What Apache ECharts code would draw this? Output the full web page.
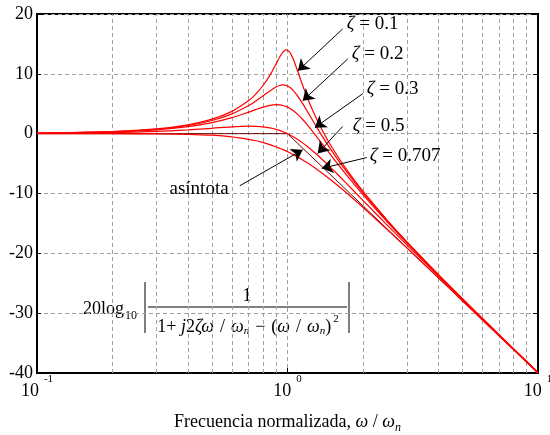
<!DOCTYPE html>
<html>
<head>
<meta charset="utf-8">
<script src="https://cdn.jsdelivr.net/npm/echarts@6/dist/echarts.min.js"></script>
<style>
  html, body { margin: 0; padding: 0; background: #fff; }
  #chart { width: 550px; height: 435px; }
</style>
</head>
<body>
<div id="chart"></div>
<script>
// normalized frequency w/wn and magnitude in dB
const freq = [0.1, 0.2, 0.3, 0.4, 0.5, 0.6, 0.7, 0.75, 0.8, 0.85, 0.9, 0.93, 0.96, 0.99, 1.02,
  1.05, 1.1, 1.15, 1.2, 1.3, 1.4, 1.5, 1.7, 2, 2.5, 3, 4, 5, 7, 10];
const zeta01 = [0.09, 0.35, 0.80, 1.48, 2.42, 3.73, 5.53, 6.70, 8.09, 9.75, 11.64, 12.77, 13.66, 14.02, 13.64,
  12.63, 10.34, 8.04, 6.00, 2.65, 0.00, -2.18, -5.67, -9.62, -14.44, -18.09, -23.53, -27.61, -33.63, -39.91];
const zeta02 = [0.08, 0.33, 0.74, 1.36, 2.20, 3.31, 4.70, 5.51, 6.35, 7.15, 7.81, 8.05, 8.14, 8.04, 7.74,
  7.28, 6.24, 5.01, 3.73, 1.27, -0.92, -2.84, -6.06, -9.84, -14.56, -18.16, -23.57, -27.63, -33.64, -39.92];
const zeta03 = [0.07, 0.29, 0.65, 1.17, 1.85, 2.68, 3.60, 4.05, 4.44, 4.72, 4.85, 4.82, 4.71, 4.52, 4.25,
  3.90, 3.19, 2.37, 1.48, -0.35, -2.11, -3.75, -6.64, -10.19, -14.74, -18.28, -23.63, -27.67, -33.66, -39.93];
const zeta05 = [0.04, 0.17, 0.37, 0.63, 0.90, 1.14, 1.25, 1.23, 1.14, 0.97, 0.73, 0.54, 0.33, 0.09, -0.18,
  -0.47, -0.98, -1.54, -2.13, -3.36, -4.60, -5.81, -8.10, -11.14, -15.29, -18.63, -23.82, -27.79, -33.72, -39.96];
const zeta0707 = [0.00, -0.01, -0.04, -0.11, -0.26, -0.53, -0.94, -1.19, -1.49, -1.82, -2.19, -2.43, -2.67, -2.92, -3.19,
  -3.46, -3.92, -4.39, -4.88, -5.86, -6.85, -7.83, -9.71, -12.30, -16.03, -19.14, -24.10, -27.97, -33.81, -40.00];
const asymFreq = [0.1, 1, 10];
const asymDb = [0, 0, -40];

const minorX = [0.2, 0.3, 0.4, 0.5, 0.6, 0.7, 0.8, 0.9, 2, 3, 4, 5, 6, 7, 8, 9];
const xExponents = ['-1', '0', '1'];

// annotations (data coordinates)
const zetaLabels = ['0.1', '0.2', '0.3', '0.5', '0.707'];
const zetaLabelAt = [[1.725, 18.3], [1.806, 13.3], [2.073, 7.5], [1.823, 1.3], [2.132, -3.7]];
const asintotaAt = [0.338, -9.2];
const arrowFrom = [[1.66, 17.5], [1.74, 12.5], [2.0, 6.7], [1.66, 1.2], [2.07, -4.0], [0.645, -8.7]];
const arrowTo = [[1.10, 10.5], [1.15, 5.5], [1.285, 1.0], [1.32, -3.3], [1.37, -5.8], [1.15, -2.7]];

const serif = 'Liberation Serif';
const gridGray = '#a0a0a0';

const chart = echarts.init(document.getElementById('chart'));

function pairs(xs, ys) {
  return xs.map((x, i) => [x, ys[i]]);
}

const curves = [zeta01, zeta02, zeta03, zeta05, zeta0707].map((vals, i) => ({
  name: 'zeta ' + zetaLabels[i],
  type: 'line',
  data: pairs(freq, vals),
  smooth: 0.3,
  symbol: 'none',
  z: 3,
  lineStyle: { color: '#ff0000', width: 1.2 }
}));

// arrows and texts ride on the last curve
curves[4].markLine = {
  silent: true,
  z: 5,
  symbol: ['none', 'arrow'],
  symbolSize: 11,
  label: { show: false },
  lineStyle: { color: '#000', width: 1, type: 'solid' },
  data: arrowFrom.map((p, i) => [{ coord: p }, { coord: arrowTo[i] }])
};
curves[4].markPoint = {
  silent: true,
  symbol: 'circle',
  symbolSize: 0,
  label: {
    show: true,
    position: 'right',
    distance: 0,
    color: '#000',
    rich: {
      z: { fontFamily: serif, fontSize: 19, fontStyle: 'italic', color: '#000' },
      r: { fontFamily: serif, fontSize: 19, color: '#000' }
    }
  },
  data: zetaLabels.map((t, i) => ({
    coord: zetaLabelAt[i],
    label: { formatter: '{z|\u03b6}{r| = ' + t + '}' }
  })).concat([{ coord: asintotaAt, label: { formatter: '{r|as\u00edntota}' } }])
};

const option = {
  animation: false,
  grid: {
    left: 37, right: 12, top: 14, bottom: 62,
    outerBoundsMode: 'none',
    containLabel: false,
    show: true, borderColor: '#000', borderWidth: 2
  },
  xAxis: {
    type: 'log',
    logBase: 10,
    min: 0.1,
    max: 10,
    name: '{r|Frecuencia normalizada, }{i|\u03c9}{r| / }{i|\u03c9}{n|n}',
    nameLocation: 'middle',
    nameGap: 40,
    nameTextStyle: {
      rich: {
        r: { fontFamily: serif, fontSize: 18, lineHeight: 18, verticalAlign: 'top', color: '#000' },
        i: { fontFamily: serif, fontSize: 18, lineHeight: 18, verticalAlign: 'top', fontStyle: 'italic', color: '#000' },
        n: { fontFamily: serif, fontSize: 12, lineHeight: 12, verticalAlign: 'top', fontStyle: 'italic', padding: [9, 0, 0, 0], color: '#000' }
      }
    },
    axisLine: { onZero: false, lineStyle: { color: '#000', width: 2 } },
    axisTick: { inside: true, length: 5, lineStyle: { color: '#000' } },
    axisLabel: {
      margin: 1,
      showMinLabel: true,
      showMaxLabel: true,
      formatter: (v, i) => '{b|10}{s|' + xExponents[i] + '}',
      rich: {
        b: { fontFamily: serif, fontSize: 18, lineHeight: 18, verticalAlign: 'top', padding: [8, 0, 0, 0], color: '#000' },
        s: { fontFamily: serif, fontSize: 11, lineHeight: 11, verticalAlign: 'top', padding: [0, 0, 0, 5], color: '#000' }
      }
    },
    splitLine: { show: true, lineStyle: { color: gridGray, type: [4, 3], width: 1 } }
  },
  yAxis: [
    {
      type: 'value',
      min: -40,
      max: 20,
      interval: 10,
      axisLine: { show: true, onZero: false, lineStyle: { color: '#000', width: 2 } },
      axisTick: { show: true, inside: true, length: 4, lineStyle: { color: '#000' } },
      axisLabel: { margin: 4, fontFamily: serif, fontSize: 18, color: '#000' },
      splitLine: { show: true, lineStyle: { color: gridGray, type: [4, 3], width: 1 } }
    },
    {
      type: 'value',
      position: 'right',
      min: -40,
      max: 20,
      interval: 10,
      axisLine: { show: true, onZero: false, lineStyle: { color: '#000', width: 2 } },
      axisTick: { show: true, inside: true, length: 5, lineStyle: { color: '#000' } },
      axisLabel: { show: false },
      splitLine: { show: false }
    }
  ],
  series: [
    {
      name: 'asintota',
      type: 'line',
      data: pairs(asymFreq, asymDb),
      symbol: 'none',
      z: 2,
      lineStyle: { color: '#6a0000', width: 1 },
      markLine: {
        silent: true,
        z: 1,
        symbol: ['none', 'none'],
        label: { show: false },
        lineStyle: { color: gridGray, type: [4, 3], width: 1 },
        data: minorX.map(v => ({ xAxis: v }))
      }
    }
  ].concat(curves),
  graphic: [
    {
      type: 'text',
      style: {
        text: '{a|20log}{s|10}',
        x: 83, y: 309,
        align: 'left', verticalAlign: 'middle',
        rich: {
          a: { fontFamily: serif, fontSize: 18, lineHeight: 18, verticalAlign: 'top', fill: '#000' },
          s: { fontFamily: serif, fontSize: 12, lineHeight: 12, verticalAlign: 'top', padding: [10, 0, 0, 1], fill: '#000' }
        }
      }
    },
    { type: 'line', shape: { x1: 145, y1: 282, x2: 145, y2: 333 }, style: { stroke: '#000', lineWidth: 1 } },
    { type: 'line', shape: { x1: 349, y1: 282, x2: 349, y2: 333 }, style: { stroke: '#000', lineWidth: 1 } },
    { type: 'line', shape: { x1: 148, y1: 307, x2: 347, y2: 307 }, style: { stroke: '#000', lineWidth: 1 } },
    {
      type: 'text',
      style: {
        text: '1', x: 247, y: 296, align: 'center', verticalAlign: 'middle',
        fontFamily: serif, fontSize: 18, fill: '#000'
      }
    },
    {
      type: 'text',
      style: {
        text: '{r|1+ }{i|j}{r|2}{i|\u03b6\u03c9}{o|/}{i|\u03c9}{n|n}{o|\u2212}{r|(}{i|\u03c9}{o|/}{i|\u03c9}{n|n}{r|)}{p|2}',
        x: 248, y: 321, align: 'center', verticalAlign: 'middle',
        rich: {
          r: { fontFamily: serif, fontSize: 18, lineHeight: 18, verticalAlign: 'top', padding: [6, 0, 0, 0], fill: '#000' },
          o: { fontFamily: serif, fontSize: 18, lineHeight: 18, verticalAlign: 'top', padding: [6, 6, 0, 6], fill: '#000' },
          i: { fontFamily: serif, fontSize: 18, lineHeight: 18, verticalAlign: 'top', fontStyle: 'italic', padding: [6, 0, 0, 0], fill: '#000' },
          n: { fontFamily: serif, fontSize: 11, lineHeight: 11, verticalAlign: 'top', fontStyle: 'italic', padding: [14, 0, 0, 0], fill: '#000' },
          p: { fontFamily: serif, fontSize: 11, lineHeight: 11, verticalAlign: 'top', padding: [2, 0, 0, 2], fill: '#000' }
        }
      }
    }
  ]
};

chart.setOption(option);
</script>
</body>
</html>
